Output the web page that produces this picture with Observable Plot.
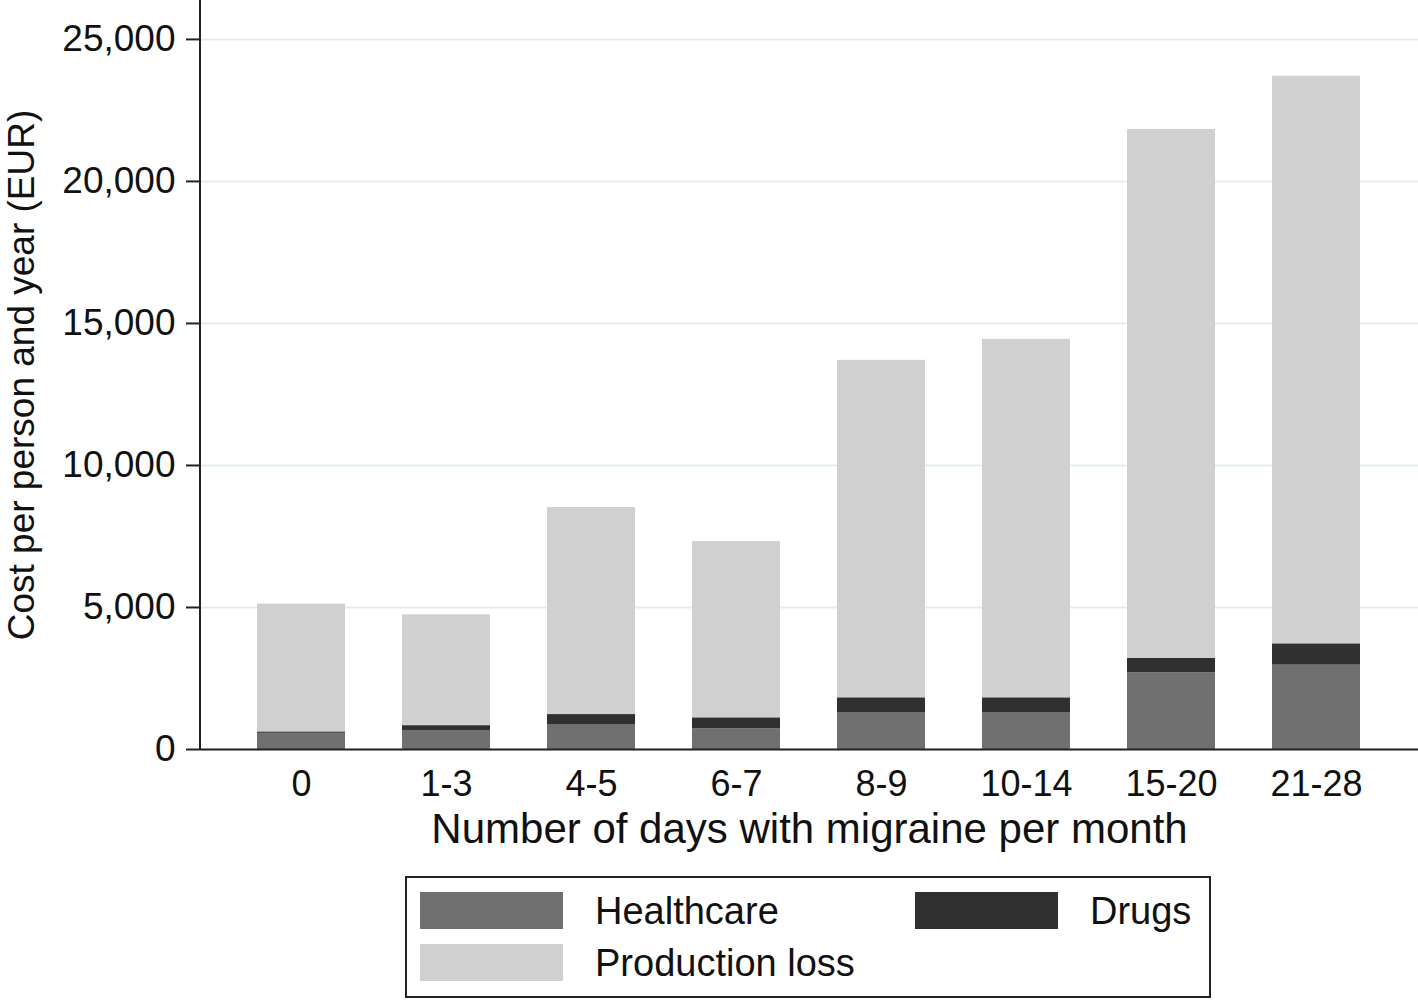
<!DOCTYPE html>
<html>
<head>
<meta charset="utf-8">
<script src="https://cdn.jsdelivr.net/npm/d3@7"></script>
<script src="https://cdn.jsdelivr.net/npm/@observablehq/plot@0.6"></script>
<style>
  body { margin: 0; background: #fff; font-family: "Liberation Sans", Arial, sans-serif; }
  #legend { position: relative; box-sizing: border-box; margin-left: 405px; margin-top: 14px; width: 806px; height: 122px; border: 2px solid #222; }
  .sw { position: absolute; width: 143px; height: 37px; }
  .lt { position: absolute; font-size: 38px; line-height: 37px; color: #111; }
</style>
</head>
<body>
<div id="chart"></div>
<div id="legend"></div>
<script>
const categories = ["0", "1-3", "4-5", "6-7", "8-9", "10-14", "15-20", "21-28"];
const healthcare = [570, 670, 860, 730, 1300, 1300, 2700, 2970];
const drugs = [50, 170, 370, 385, 520, 520, 510, 750];
const productionLoss = [4500, 3900, 7290, 6205, 11880, 12620, 18620, 19980];
const seriesNames = ["Healthcare", "Drugs", "Production loss"];
const seriesColors = ["#707070", "#303030", "#d0d0d0"];
const yTicks = [0, 5000, 10000, 15000, 20000, 25000];

const rows = [];
categories.forEach((c, i) => {
  rows.push({cat: c, type: "Healthcare", value: healthcare[i]});
  rows.push({cat: c, type: "Drugs", value: drugs[i]});
  rows.push({cat: c, type: "Production loss", value: productionLoss[i]});
});

const font = '"Liberation Sans", Arial, sans-serif';

const chart = Plot.plot({
  width: 1418,
  height: 862,
  marginLeft: 200,
  marginRight: 0,
  marginTop: 0,
  marginBottom: 113,
  style: {fontFamily: font, color: "#111", background: "#fff"},
  x: {domain: categories, paddingInner: 0.39, paddingOuter: 0.37, label: null},
  y: {domain: [0, 26370], label: null},
  color: {domain: seriesNames, range: seriesColors},
  marks: [
    Plot.gridY(yTicks, {stroke: "#e4eef0", strokeOpacity: 1, strokeWidth: 2}),
    Plot.barY(rows, {x: "cat", y: "value", fill: "type", z: "type", order: seriesNames}),
    Plot.ruleY([0], {stroke: "#222", strokeWidth: 2}),
    Plot.axisY(yTicks, {tickSize: 14, tickPadding: 11, fontSize: 37, tickFormat: d3.format(","), label: null, stroke: "#222", strokeWidth: 2}),
    Plot.axisX({tickSize: 0, tickPadding: 21, fontSize: 36, label: null}),
    Plot.text(["Number of days with migraine per month"], {text: d => d, frameAnchor: "bottom", dy: 80, lineAnchor: "middle", textAnchor: "middle", fontSize: 42, fill: "#111"}),
    Plot.text(["Cost per person and year (EUR)"], {text: d => d, frameAnchor: "left", dx: -178, rotate: -90, lineAnchor: "middle", textAnchor: "middle", fontSize: 37, fill: "#111"})
  ]
});

// y-axis line along the left edge of the plotting frame, from the plot's own scales
const yRange = chart.scale("y").range;
const xRange = chart.scale("x").range;
d3.select(chart).append("line")
  .attr("x1", xRange[0]).attr("x2", xRange[0])
  .attr("y1", Math.min(...yRange)).attr("y2", Math.max(...yRange))
  .attr("stroke", "#222").attr("stroke-width", 2);

document.getElementById("chart").appendChild(chart);

const legend = document.getElementById("legend");
const items = [
  {name: seriesNames[0], color: seriesColors[0], left: 13, top: 14},
  {name: seriesNames[1], color: seriesColors[1], left: 508, top: 14},
  {name: seriesNames[2], color: seriesColors[2], left: 13, top: 66}
];
items.forEach(it => {
  const sw = document.createElement("div");
  sw.className = "sw";
  sw.style.left = it.left + "px";
  sw.style.top = it.top + "px";
  sw.style.background = it.color;
  legend.appendChild(sw);
  const t = document.createElement("div");
  t.className = "lt";
  t.textContent = it.name;
  t.style.left = (it.left + 175) + "px";
  t.style.top = (it.top + 1) + "px";
  legend.appendChild(t);
});
</script>
</body>
</html>
